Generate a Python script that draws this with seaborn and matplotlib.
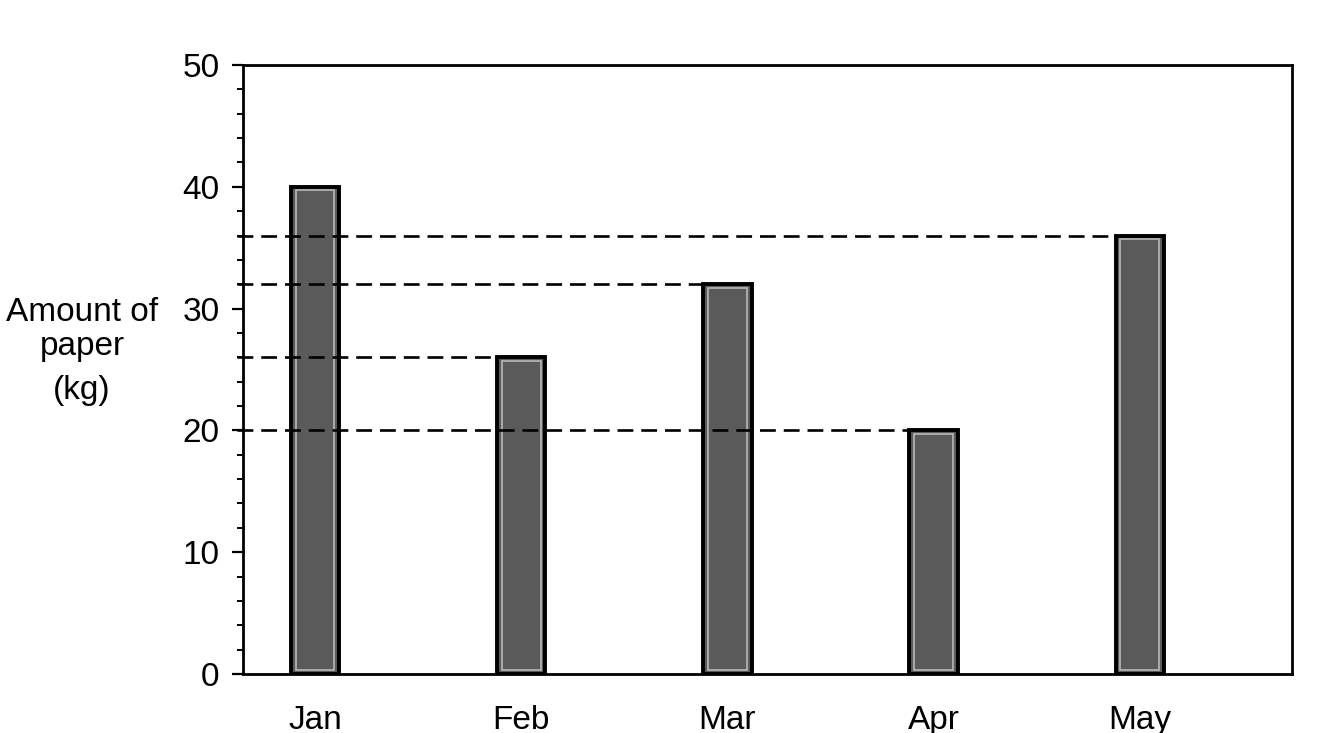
import matplotlib
matplotlib.use("Agg")
import matplotlib.pyplot as plt
import seaborn as sns
import pandas as pd
from matplotlib.ticker import MultipleLocator
from matplotlib.patches import Rectangle

months = ["Jan", "Feb", "Mar", "Apr", "May"]
paper_kg = [40, 26, 32, 20, 36]
y_ticks = [0, 10, 20, 30, 40, 50]

df = pd.DataFrame({"month": months, "kg": paper_kg})

sns.set_theme(style="white")
plt.rcParams["font.family"] = ["Liberation Sans", "DejaVu Sans"]

fig = plt.figure(figsize=(13.4, 7.33), dpi=100)
ax = fig.add_axes([0.1813, 0.0805, 0.964 - 0.1813, 0.9113 - 0.0805])

sns.barplot(data=df, x="month", y="kg", ax=ax, color="#5a5a5a",
            width=0.235, edgecolor="black", linewidth=2.8, saturation=1,
            zorder=3)

# inner light outline on bars
for p in ax.patches:
    x0, y0 = p.get_x(), p.get_y()
    w, h = p.get_width(), p.get_height()
    ax.add_patch(Rectangle((x0 + w * 0.1, y0 + 0.3), w * 0.8, h - 0.6,
                           fill=False, edgecolor="#b8b8b8", linewidth=1.2,
                           zorder=4))

ax.set_xlim(-0.349, 4.737)
ax.set_ylim(0, 50)

# dashed guide lines from the y axis to each bar's left edge (except Jan)
for i, (m, v) in enumerate(zip(months, paper_kg)):
    if i == 0:
        continue
    left_edge = ax.patches[i].get_x()
    ax.plot([-0.38, left_edge], [v, v], color="black", linewidth=1.9,
            dashes=(6, 3), zorder=5, clip_on=False)

ax.set_yticks(y_ticks)
ax.yaxis.set_minor_locator(MultipleLocator(2))
ax.tick_params(axis="y", which="major", direction="out", length=8, width=1.6,
               color="black", labelsize=24, labelcolor="black", pad=9,
               left=True)
ax.tick_params(axis="y", which="minor", direction="out", length=4, width=1.4,
               color="black", left=True)
ax.tick_params(axis="x", which="both", length=0, labelsize=24,
               labelcolor="black", pad=22)

ax.set_xlabel("")
ax.set_ylabel("")
for s in ax.spines.values():
    s.set_visible(True)
    s.set_color("black")
    s.set_linewidth(2.0)

for label, ypx in [("Amount of", 313), ("paper", 346), ("(kg)", 391)]:
    fig.text(82 / 1340, 1 - ypx / 733, label, ha="center", va="center",
             fontsize=24, color="black")

fig.savefig("out.png", dpi=100, facecolor="white")
